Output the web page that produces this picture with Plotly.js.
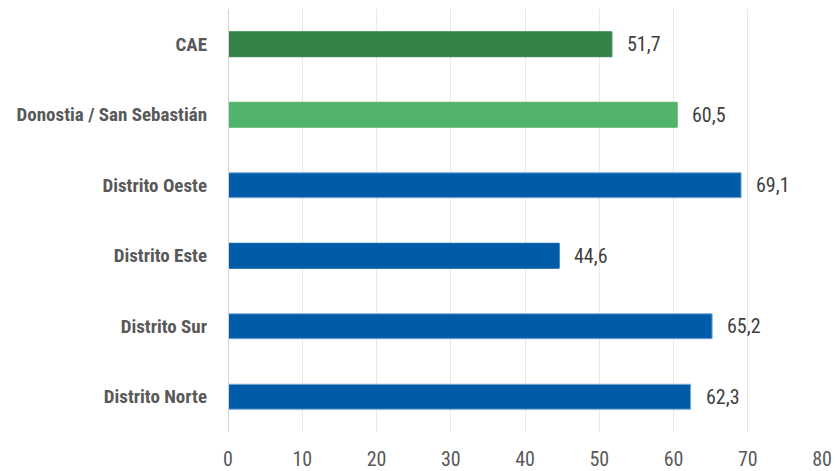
<!DOCTYPE html>
<html>
<head>
<meta charset="utf-8">
<script src="https://cdn.plot.ly/plotly-3.0.1.min.js"></script>
<style>
  html, body { margin: 0; padding: 0; background: #fff; }
  #chart { width: 835px; height: 471px; }
</style>
</head>
<body>
<div id="chart"></div>
<script>
const categories = ["CAE", "Donostia / San Sebastián", "Distrito Oeste", "Distrito Este", "Distrito Sur", "Distrito Norte"];
const values = [51.7, 60.5, 69.1, 44.6, 65.2, 62.3];
const barColors = ["#338349", "#52b36a", "#005ca9", "#005ca9", "#005ca9", "#005ca9"];
const barOutline = ["#338349", "#52b36a", "#7aaad6", "#005ca9", "#7aaad6", "#7aaad6"];
const xTicks = [0, 10, 20, 30, 40, 50, 60, 70, 80];

const fontFam = "'Liberation Sans Narrow', 'Arial Narrow', 'Roboto Condensed', sans-serif";
const fmt = v => v.toFixed(1).replace('.', ',');

const trace = {
  type: 'bar',
  orientation: 'h',
  y: categories,
  x: values,
  marker: { color: barColors, line: { color: barOutline, width: 1 } },
  hoverinfo: 'none'
};

const annotations = values.map((v, i) => ({
  x: v, y: categories[i], xref: 'x', yref: 'y',
  text: fmt(v), showarrow: false, xanchor: 'left', xshift: 13,
  font: { family: fontFam, size: 20, color: '#404040' }
}));

const layout = {
  width: 835, height: 471,
  margin: { l: 228, r: 13, t: 9, b: 39 },
  paper_bgcolor: '#fff', plot_bgcolor: '#fff',
  showlegend: false,
  bargap: 0.646,
  font: { family: fontFam, color: '#595959' },
  xaxis: {
    range: [0, 80],
    tickvals: xTicks,
    ticktext: xTicks.map(String),
    showgrid: true, gridcolor: '#e9e9e9', gridwidth: 1,
    zeroline: false, showline: false,
    ticks: '', ticklabelstandoff: 13,
    tickfont: { family: fontFam, size: 20, color: '#595959' },
    fixedrange: true
  },
  yaxis: {
    autorange: 'reversed',
    showgrid: false, zeroline: false,
    showline: false, ticks: '',
    ticklabelstandoff: 20,
    tickfont: { family: fontFam, size: 19, color: '#595959', weight: 'bold' },
    fixedrange: true
  },
  shapes: [{
    type: 'line', xref: 'x', yref: 'paper', x0: 0, x1: 0, y0: 0, y1: 1,
    line: { color: '#d4d4d4', width: 2 }
  }],
  annotations: annotations
};

Plotly.newPlot('chart', [trace], layout, { displayModeBar: false, staticPlot: true });
</script>
</body>
</html>
